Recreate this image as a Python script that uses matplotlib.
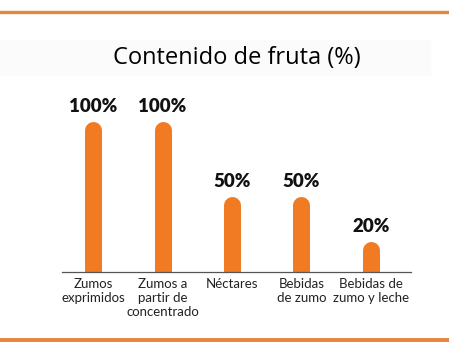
import matplotlib
matplotlib.use("Agg")
import matplotlib.pyplot as plt
from matplotlib.patches import Rectangle
from matplotlib.lines import Line2D

categories = ["Zumos\nexprimidos", "Zumos a\npartir de\nconcentrado", "Néctares",
              "Bebidas\nde zumo", "Bebidas de\nzumo y leche"]
values = [100, 100, 50, 50, 20]
value_labels = ["100%", "100%", "50%", "50%", "20%"]
title = "Contenido de fruta (%)"

orange = "#f07b22"
line_orange = "#e8843e"

fig = plt.figure(figsize=(4.49, 3.57), dpi=100)
fig.patch.set_facecolor("white")

# light title band and orange rules
fig.patches.append(Rectangle((0, 1 - 75 / 357), 430 / 449, 35 / 357, transform=fig.transFigure,
                             color="#fbfbfb", zorder=0))
fig.lines.append(Line2D([0, 1], [1 - 12 / 357] * 2, transform=fig.transFigure,
                        color=line_orange, lw=2.4))
fig.lines.append(Line2D([0, 1], [1 - 340 / 357] * 2, transform=fig.transFigure,
                        color=line_orange, lw=2.8))

fig.text(237 / 449, 1 - 58 / 357, title, ha="center", va="center",
         fontsize=17, family="Open Sans", color="#000000")

ax = fig.add_axes([62 / 449, 85 / 357, 349 / 449, 196 / 357])
ax.set_xlim(-0.45, 4.58)
ax.set_ylim(0, 130)

# rounded-top bars: thick lines with round caps, cut at the baseline
bar_px = 17
r = (bar_px / 2) * 130 / 196
x = list(range(len(values)))
for xi, v, lab in zip(x, values, value_labels):
    ax.plot([xi, xi], [-20, v - r], color=orange, lw=bar_px * 72 / 100,
            solid_capstyle="round")
    ax.text(xi, v + 10, lab, ha="center", va="center", fontsize=13.5,
            fontweight="heavy", family="Lato", color="#111111", clip_on=False)

for s in ["top", "right", "left"]:
    ax.spines[s].set_visible(False)
ax.spines["bottom"].set_color("#555555")
ax.spines["bottom"].set_linewidth(0.9)
ax.set_yticks([])
ax.set_xticks(x)
ax.set_xticklabels(categories, fontsize=9.5, family="Lato", color="#222222",
                   linespacing=1.2)
ax.tick_params(axis="x", length=0, pad=4)
ax.patch.set_alpha(0)

fig.savefig("out.png", dpi=100)
